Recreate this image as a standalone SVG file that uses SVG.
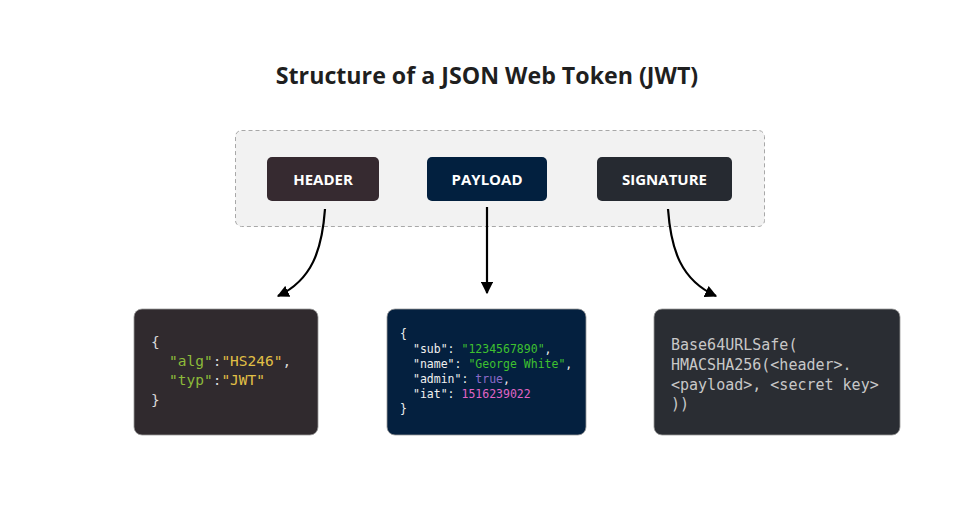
<svg xmlns="http://www.w3.org/2000/svg" width="974" height="506" viewBox="0 0 974 506">
<style>
.title{font-family:"Open Sans","Noto Sans",sans-serif;font-weight:700;font-size:23.2px;fill:#1f1f1f}
.btn{font-family:"Open Sans","Noto Sans",sans-serif;font-weight:700;font-size:15px;fill:#ffffff}
.mono{font-family:"DejaVu Sans Mono","Liberation Mono",monospace}
.conn{fill:none;stroke:#000;stroke-width:2.2}
.card{stroke:#9a9a9a;stroke-width:0.8}
</style>
<defs>
<marker id="arr" viewBox="0 0 10 10" refX="9" refY="5" markerWidth="5.5" markerHeight="5.5" orient="auto" markerUnits="strokeWidth">
<path d="M0,0 L10,5 L0,10 z" fill="#000"/>
</marker>
</defs>
<rect width="974" height="506" fill="#ffffff"/>
<text class="title" x="487" y="84" text-anchor="middle">Structure of a JSON Web Token (JWT)</text>
<g id="container">
<rect x="235.5" y="130.5" width="529" height="96" rx="6" fill="#f2f2f2" stroke="#a8a8a8" stroke-dasharray="4 3"/>
</g>
<g id="header">
<rect x="267" y="157" width="112" height="44" rx="5" fill="#362a30"/>
<text class="btn" x="323" y="184.5" text-anchor="middle">HEADER</text>
</g>
<g id="payload">
<rect x="427" y="157" width="120" height="44" rx="5" fill="#02203f"/>
<text class="btn" x="487" y="184.5" text-anchor="middle">PAYLOAD</text>
</g>
<g id="signature">
<rect x="597" y="157" width="135" height="44" rx="5" fill="#262a31"/>
<text class="btn" x="664.5" y="184.5" text-anchor="middle">SIGNATURE</text>
</g>
<g id="connectors">
<path class="conn" d="M325 209 C322 250 312 280 278 296" marker-end="url(#arr)"/>
<path class="conn" d="M487 207 L487 293" marker-end="url(#arr)"/>
<path class="conn" d="M668 209 C671 250 681 280 716 296" marker-end="url(#arr)"/>
</g>
<g id="header-code">
<rect class="card" x="134" y="309" width="184" height="126" rx="8" fill="#302a2e"/>
<text class="mono" font-size="14.5" fill="#d8d8d8">
<tspan x="151" y="347">{</tspan>
<tspan x="169" y="366"><tspan fill="#8dbb3a">"alg"</tspan>:<tspan fill="#e2c046">"HS246"</tspan>,</tspan>
<tspan x="169" y="385"><tspan fill="#8dbb3a">"typ"</tspan>:<tspan fill="#e2c046">"JWT"</tspan></tspan>
<tspan x="151" y="405">}</tspan>
</text>
</g>
<g id="payload-code">
<rect class="card" x="387" y="309" width="199" height="126" rx="8" fill="#04203f"/>
<text class="mono" font-size="11.5" fill="#f0f0f0">
<tspan x="400" y="338">{</tspan>
<tspan x="413" y="353">"sub": <tspan fill="#3fc12f">"1234567890"</tspan>,</tspan>
<tspan x="413" y="368">"name": <tspan fill="#3fc12f">"George White"</tspan>,</tspan>
<tspan x="413" y="383">"admin": <tspan fill="#8c6bc8">true</tspan>,</tspan>
<tspan x="413" y="398">"iat": <tspan fill="#e064c4">1516239022</tspan></tspan>
<tspan x="400" y="413">}</tspan>
</text>
</g>
<g id="signature-code">
<rect class="card" x="654" y="309" width="246" height="126" rx="8" fill="#2a2d33"/>
<text class="mono" font-size="15" fill="#c8c8c8">
<tspan x="671" y="350">Base64URLSafe(</tspan>
<tspan x="671" y="370">HMACSHA256(&lt;header&gt;.</tspan>
<tspan x="671" y="390">&lt;payload&gt;, &lt;secret key&gt;</tspan>
<tspan x="671" y="409">))</tspan>
</text>
</g>
</svg>
